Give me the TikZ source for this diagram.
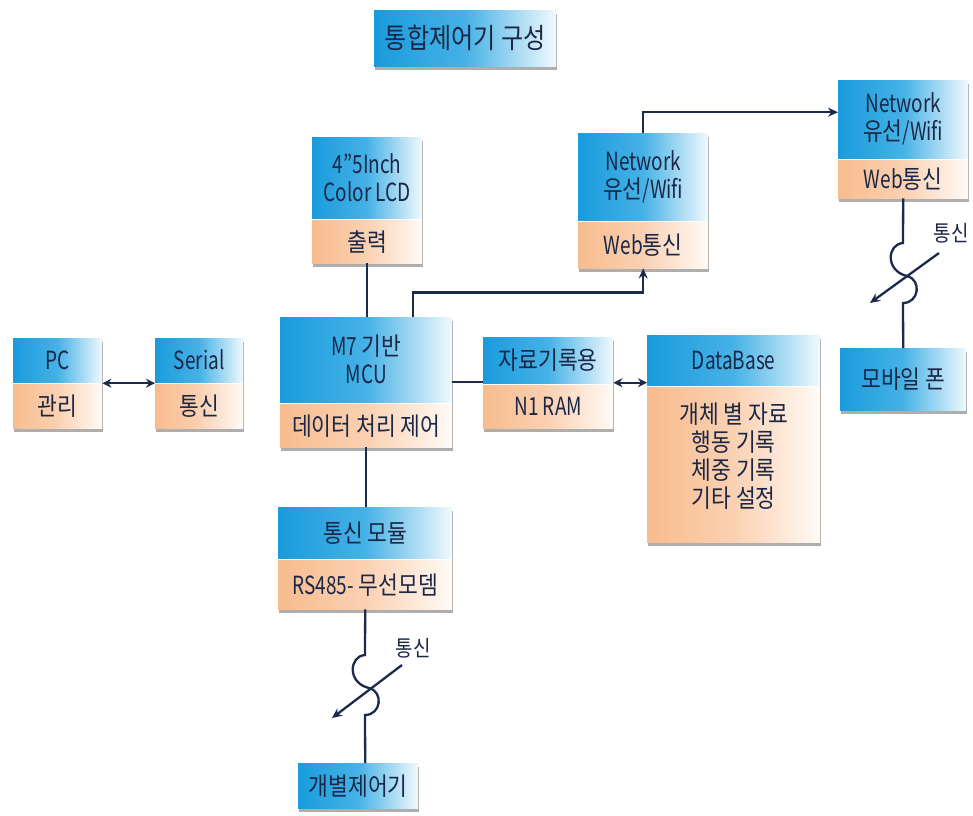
\documentclass[tikz,border=0pt]{standalone}
\usepackage{fontspec}
\setmainfont[FakeStretch=0.86]{Noto Sans CJK KR}
\newfontfamily\lat[FakeStretch=0.76]{Noto Sans CJK KR}
\newcommand\la[1]{{\lat #1}}
\usetikzlibrary{arrows.meta,shadows}
\definecolor{bl}{HTML}{1A9BDC}
\definecolor{blm}{HTML}{46B2E6}
\definecolor{blr}{HTML}{F2F9FD}
\definecolor{orl}{HTML}{F8BC8E}
\definecolor{orm}{HTML}{FAD1B2}
\definecolor{orr}{HTML}{FFFAF6}
\definecolor{ink}{HTML}{1B2747}
\definecolor{ln}{HTML}{1C2B4C}
\tikzset{
  shbox/.style={fill=white, draw=none, inner sep=0pt,
    drop shadow={shadow xshift=0.5pt, shadow yshift=-3.5pt, opacity=0.45, fill=black!70}},
  txt/.style={inner sep=0pt, text=ink, align=center, font=\fontsize{25}{28}\selectfont},
  bluepart/.style={txt, left color=bl, right color=blr, middle color=blm},
  orangepart/.style={txt, left color=orl, right color=orr, middle color=orm},
  conn/.style={draw=ln, line width=2.3pt},
  arr/.style={conn, -{Stealth[length=10pt,width=9pt]}},
  darr/.style={conn, {Stealth[length=9pt,width=9pt]}-{Stealth[length=9pt,width=9pt]}},
  lbl/.style={text=ink, font=\fontsize{22}{24}\selectfont, inner sep=0pt},
}
% name, x, y, width, top height, bottom height, top text, bottom text
\newcommand\twobox[8]{%
  \node[shbox, anchor=north west, minimum width=#4pt, minimum height=#5pt+#6pt] (#1) at (#2,#3) {};
  \node[bluepart, anchor=north west, minimum width=#4pt, minimum height=#5pt] (#1-t) at (#1.north west) {#7};
  \node[orangepart, anchor=south west, minimum width=#4pt, minimum height=#6pt-2pt] (#1-b) at (#1.south west) {#8};
}
% name, x, y, width, height, text
\newcommand\onebox[6]{%
  \node[shbox, anchor=north west, minimum width=#4pt, minimum height=#5pt] (#1) at (#2,#3) {};
  \node[bluepart, anchor=north west, minimum width=#4pt, minimum height=#5pt] (#1-t) at (#1.north west) {#6};
}
\begin{document}
\begin{tikzpicture}[x=1pt,y=-1pt]
\useasboundingbox[fill=white] (0,0) rectangle (973,815);

\onebox{title}{374}{10}{182}{56}{\fontsize{28}{30}\selectfont 통합제어기 구성}
\twobox{lcd}{312}{137}{110}{81}{45}{\la{4”5Inch}\\\la{Color LCD}}{출력}
\twobox{net1}{578}{133}{130}{87}{48}{\la{Network}\\유선\la{/Wifi}}{\la{Web}통신}
\twobox{net2}{838}{80}{130}{78}{40}{\la{Network}\\유선\la{/Wifi}}{\la{Web}통신}
\onebox{mob}{840}{348}{126}{62}{모바일 폰}
\twobox{pc}{13}{338}{89}{44}{46}{\la{PC}}{관리}
\twobox{ser}{155}{338}{88}{44}{46}{\la{Serial}}{통신}
\twobox{mcu}{280}{317}{172}{85}{45}{\la{M7} 기반\\\la{MCU}}{데이터 처리 제어}
\twobox{ram}{483}{337}{130}{46}{45}{자료기록용}{\la{N1 RAM}}
\twobox{db}{647}{335}{173}{50}{157}{\la{DataBase}}{개체 별 자료\\행동 기록\\체중 기록\\기타 설정\\[-8pt]\mbox{}}
\twobox{com}{278}{507}{174}{51}{51}{통신 모듈}{\la{RS485-} 무선모뎀}
\onebox{ind}{298}{763}{120}{45}{개별제어기}

% connectors
\draw[conn] (lcd.south) -- (lcd.south |- mcu.north);
\draw[arr] ([xshift=47pt]mcu.north) |- ([yshift=-24pt]net1.south) -- (net1.south);
\draw[arr] (net1.north) |- ([yshift=27pt]net2.west);
\draw[darr] (pc.east) -- (ser.west);
\draw[conn] (mcu.east) -- (mcu.east -| ram.west);
\draw[darr] (ram.east) -- (ram.east -| db.west);
\draw[conn] (mcu.south) -- (mcu.south |- com.north);

% wireless link top right
\draw[conn] (net2.south) -- (903,243) .. controls (887,244) and (885,271) .. (907,276)
  .. controls (922,280) and (919,303) .. (903,303) -- (mob.north);
\coordinate (w1a) at (939,253);
\coordinate (w1b) at (870,303);
\draw[arr] (w1a) -- (w1b);
\node[lbl] (l1) at (951,233) {통신};

% wireless link bottom
\draw[conn] (com.south) -- (365,655) .. controls (349,656) and (347,683) .. (369,688)
  .. controls (384,692) and (381,715) .. (365,715) -- (com.south |- ind.north);
\coordinate (w2a) at (402,665);
\coordinate (w2b) at (332,718);
\draw[arr] (w2a) -- (w2b);
\node[lbl] (l2) at (413,648) {통신};
\end{tikzpicture}
\end{document}
